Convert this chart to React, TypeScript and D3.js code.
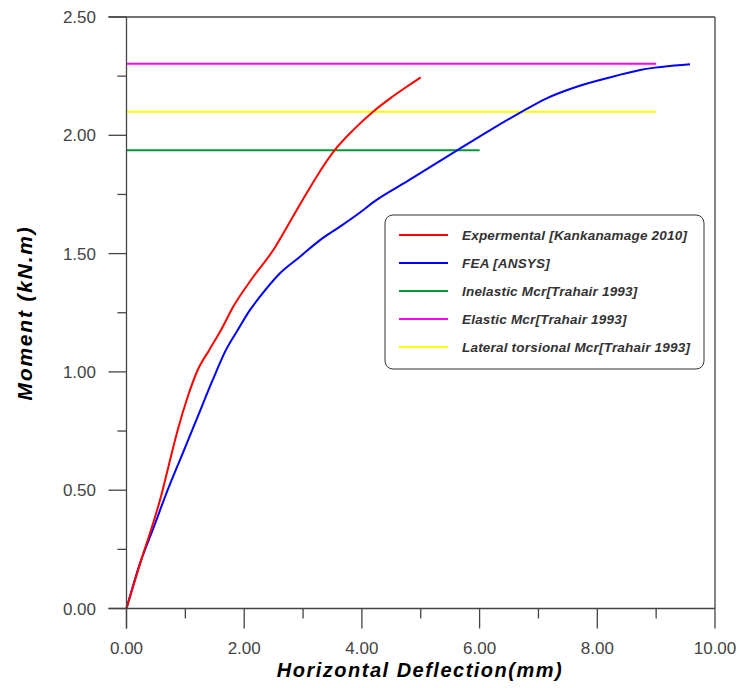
import React from "react";
import * as d3 from "d3";

const expX = [0, 0.286, 0.416, 0.586, 0.727, 0.87, 1.04, 1.21, 1.407, 1.606, 1.815, 2.155, 2.494, 2.778, 3.06, 3.23, 3.54, 3.85, 4.19, 4.48, 4.76, 5.0];
const expY = [0, 0.233, 0.332, 0.473, 0.614, 0.754, 0.895, 1.008, 1.093, 1.177, 1.276, 1.402, 1.515, 1.635, 1.755, 1.825, 1.938, 2.022, 2.10, 2.156, 2.205, 2.245];

const feaX = [0, 0.229, 0.445, 0.70, 0.955, 1.21, 1.465, 1.69, 1.89, 2.099, 2.268, 2.608, 2.948, 3.288, 3.628, 3.91, 4.25, 4.76, 5.61, 6.18, 6.72, 7.14, 7.65, 8.16, 8.73, 9.575];
const feaY = [0, 0.191, 0.332, 0.501, 0.656, 0.811, 0.966, 1.093, 1.177, 1.262, 1.318, 1.417, 1.487, 1.557, 1.614, 1.663, 1.727, 1.804, 1.935, 2.022, 2.10, 2.156, 2.205, 2.241, 2.276, 2.30];

const hLineValues = [1.937, 2.302, 2.10];
const hLineEnds = [6.0, 9.0, 9.0];
const hLineColors = ["#009933", "#ff00ff", "#ffff00"];

const legendNames = ["Expermental [Kankanamage 2010]", "FEA [ANSYS]", "Inelastic Mcr[Trahair 1993]", "Elastic Mcr[Trahair 1993]", "Lateral torsional Mcr[Trahair 1993]"];
const legendColors = ["#ff0000", "#0000ff", "#009933", "#ff00ff", "#ffff00"];

const xMajor = [0, 2, 4, 6, 8, 10];
const xMinor = [1, 3, 5, 7, 9];
const yMajor = [0, 0.5, 1.0, 1.5, 2.0, 2.5];
const yMinor = [0.25, 0.75, 1.25, 1.75, 2.25];

export default function App() {
  const W = 741, H = 688;
  const L = 126.5, R = 715, T = 17, B = 608.5;
  const x = d3.scaleLinear().domain([0, 10]).range([L, R]);
  const y = d3.scaleLinear().domain([0, 2.5]).range([B, T]);
  const line = d3.line<[number, number]>().x(d => x(d[0])).y(d => y(d[1])).curve(d3.curveMonotoneX);
  const exp = expX.map((v, i) => [v, expY[i]] as [number, number]);
  const fea = feaX.map((v, i) => [v, feaY[i]] as [number, number]);
  const axisColor = "#444";
  const font = "'Liberation Sans', Arial, sans-serif";
  const legX = 385, legY = 215, legW = 319, legH = 154;
  return (
    <svg width={W} height={H} style={{ position: "absolute", left: 0, top: 0 }}>
      <rect x={0} y={0} width={W} height={H} fill="#fff" />
      {hLineValues.map((v, i) => (
        <line key={i} x1={x(0)} x2={x(hLineEnds[i])} y1={y(v)} y2={y(v)} stroke={hLineColors[i]} strokeWidth={2} />
      ))}
      <path d={line(fea) || ""} fill="none" stroke="#0000ff" strokeWidth={2} />
      <path d={line(exp) || ""} fill="none" stroke="#ff0000" strokeWidth={2} />
      <line x1={L - 18} x2={R} y1={T} y2={T} stroke={axisColor} strokeWidth={1.3} />
      <line x1={R} x2={R} y1={T} y2={B} stroke={axisColor} strokeWidth={1.3} />
      <line x1={L} x2={L} y1={T} y2={B + 20} stroke={axisColor} strokeWidth={1.3} />
      <line x1={L - 18} x2={R} y1={B} y2={B} stroke={axisColor} strokeWidth={1.3} />
      {yMajor.map(v => (
        <g key={"ym" + v}>
          <line x1={L - 18} x2={L} y1={y(v)} y2={y(v)} stroke={axisColor} strokeWidth={1.3} />
          <text x={96} y={y(v)} dy="0.36em" textAnchor="end" fontFamily={font} fontSize={17} fill="#444">{v.toFixed(2)}</text>
        </g>
      ))}
      {yMinor.map(v => (
        <line key={"yn" + v} x1={L - 9} x2={L} y1={y(v)} y2={y(v)} stroke={axisColor} strokeWidth={1.3} />
      ))}
      {xMajor.map(v => (
        <g key={"xm" + v}>
          <line x1={x(v)} x2={x(v)} y1={B} y2={B + 20} stroke={axisColor} strokeWidth={1.3} />
          <text x={x(v)} y={654} textAnchor="middle" fontFamily={font} fontSize={17} fill="#444">{v.toFixed(2)}</text>
        </g>
      ))}
      {xMinor.map(v => (
        <line key={"xn" + v} x1={x(v)} x2={x(v)} y1={B} y2={B + 10} stroke={axisColor} strokeWidth={1.3} />
      ))}
      <text x={420} y={677} textAnchor="middle" fontFamily={font} fontSize={20} letterSpacing={1.5} fontWeight="bold" fontStyle="italic" fill="#000">Horizontal Deflection(mm)</text>
      <text transform={`translate(32,313) rotate(-90)`} textAnchor="middle" fontFamily={font} fontSize={21} letterSpacing={1.8} fontWeight="bold" fontStyle="italic" fill="#000">Moment (kN.m)</text>
      <rect x={legX} y={legY} width={legW} height={legH} rx={8} ry={8} fill="#fff" stroke="#333" strokeWidth={1} />
      {legendNames.map((n, i) => {
        const ly = 235 + i * 28;
        return (
          <g key={n}>
            <line x1={399} x2={448} y1={ly} y2={ly} stroke={legendColors[i]} strokeWidth={2} />
            <text x={462} y={ly} dy="0.36em" fontFamily={font} fontSize={13.5} letterSpacing={0.2} fontWeight="bold" fontStyle="italic" fill="#333">{n}</text>
          </g>
        );
      })}
    </svg>
  );
}
